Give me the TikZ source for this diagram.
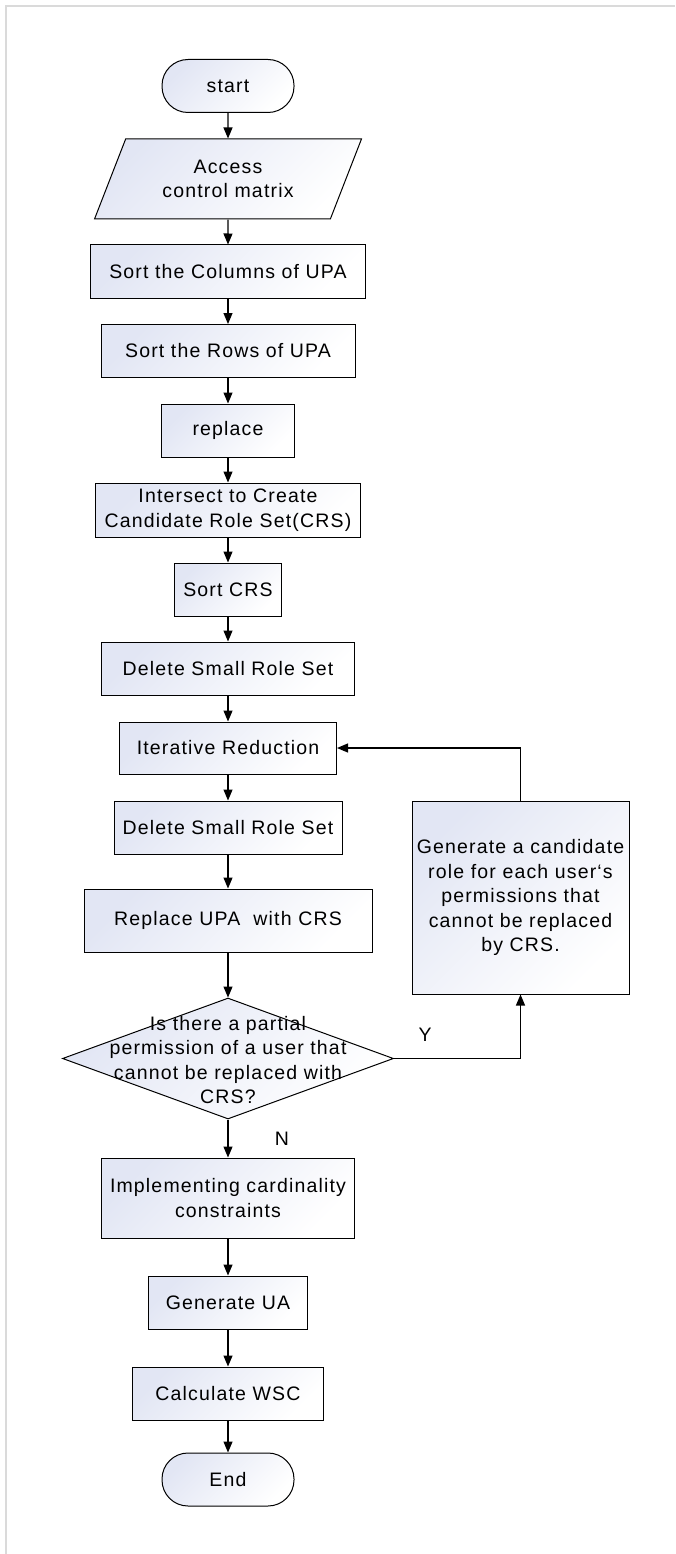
\documentclass[tikz,border=0pt]{standalone}
\usepackage{fontspec}
\setmainfont{Liberation Sans}[LetterSpace=6]
\usetikzlibrary{arrows.meta, shapes.geometric}
\definecolor{boxshade}{RGB}{226,230,244}
\definecolor{framegray}{RGB}{218,218,218}
\tikzset{
  base/.style={draw=black, line width=1pt, top color=boxshade, bottom color=white, shading angle=45,
    font=\fontsize{19.5}{24.5}\selectfont, align=center, inner sep=2pt},
  procbox/.style={base, rectangle, minimum height=53},
  termbox/.style={base, rectangle, rounded corners=26, minimum width=132, minimum height=53},
  inbox/.style={base, trapezium, trapezium left angle=64, trapezium right angle=116,
    trapezium stretches=true, minimum width=267, minimum height=80},
  decbox/.style={base, diamond, inner sep=0pt, minimum width=331, minimum height=121},
  plaintext/.style={font=\fontsize{19.5}{24.5}\selectfont, align=center, inner sep=0pt},
  flowarrow/.style={line width=1.2pt, -{Triangle[length=11pt,width=9pt]}},
}
\begin{document}
\begin{tikzpicture}[x=1pt, y=-1pt]
\useasboundingbox (0,0) rectangle (676,1554);
\draw[framegray, line width=1.5pt] (6,1554) -- (6,6) -- (675,6);

% main column
\node[termbox] (start) at (228,86) {start};
\node[inbox] (input) at (228,179) {Access\\control matrix};
\node[procbox, minimum width=275] (cols) at (228,271.5) {Sort the Columns of UPA};
\node[procbox, minimum width=254] (rows) at (228,351) {Sort the Rows of UPA};
\node[procbox, minimum width=133] (repl) at (228,430.5) {replace};
\node[procbox, minimum width=265, minimum height=54] (inter) at (228,510) {Intersect to Create\\Candidate Role Set(CRS)};
\node[procbox, minimum width=107] (sortcrs) at (228,589.5) {Sort CRS};
\node[procbox, minimum width=253] (del1) at (228,668.5) {Delete Small Role Set};
\node[procbox, minimum width=217, minimum height=52] (iter) at (228,748) {Iterative Reduction};
\node[procbox, minimum width=228] (del2) at (228,827.5) {Delete Small Role Set};
\node[procbox, minimum width=288, minimum height=63] (replupa) at (228,920.5) {Replace UPA\ \ with CRS};
\node[decbox] (dec) at (228,1058.5) {};
\node[plaintext] (dectext) at (228,1060) {Is there a partial\\permission of a user that\\cannot be replaced with\\CRS?};
\node[procbox, minimum width=253, minimum height=80] (card) at (228,1198) {Implementing cardinality\\constraints};
\node[procbox, minimum width=159] (genua) at (228,1302.5) {Generate UA};
\node[procbox, minimum width=191] (wsc) at (228,1393.5) {Calculate WSC};
\node[termbox] (stop) at (228,1479.5) {End};

% loop box
\node[procbox, minimum width=217, minimum height=193] (gen) at (520.5,897.5)
  {Generate a candidate\\role for each user‘s\\permissions that\\cannot be replaced\\by CRS.};

\node[plaintext] (ylab) at (425,1035) {Y};
\node[plaintext] (nlab) at (282,1139) {N};

\foreach \a/\b in {start/input, input/cols, cols/rows, rows/repl, repl/inter, inter/sortcrs,
  sortcrs/del1, del1/iter, iter/del2, del2/replupa, replupa/dec, dec/card, card/genua,
  genua/wsc, wsc/stop}
  \draw[flowarrow] (\a.south) -- (\b.north);

\draw[flowarrow] (dec.east) -| (gen.south);
\draw[flowarrow] (gen.north) |- (iter.east);
\end{tikzpicture}
\end{document}
